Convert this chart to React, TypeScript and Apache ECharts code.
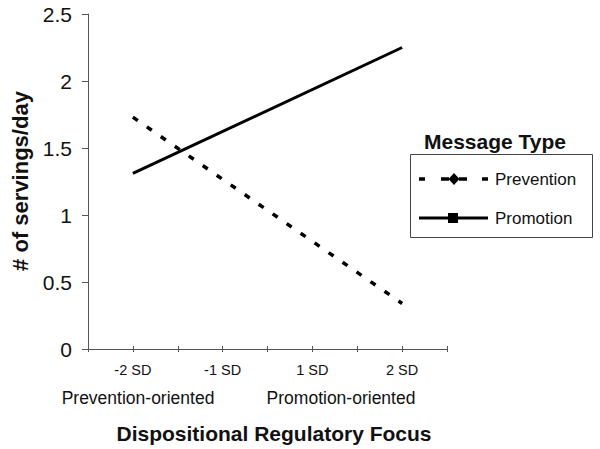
import React, { useEffect, useRef } from "react";
import * as echarts from "echarts";

const categories = ["-2 SD", "-1 SD", "1 SD", "2 SD"];
const prevention: (number | null)[] = [1.73, null, null, 0.34];
const promotion: (number | null)[] = [1.31, null, null, 2.25];
const yTicks = { min: 0, max: 2.5, interval: 0.5 };
const groupLabels = ["Prevention-oriented", "Promotion-oriented"];
const seriesNames = ["Prevention", "Promotion"];

const FONT = "'Liberation Sans', Arial, sans-serif";
const INK = "#111";

function toPoints(vals: (number | null)[]) {
  const pts: [number, number][] = [];
  vals.forEach((v, i) => {
    if (v !== null) pts.push([2 * i + 1, v]);
  });
  return pts;
}

export default function App() {
  const ref = useRef<HTMLDivElement>(null);
  useEffect(() => {
    if (!ref.current) return;
    const chart = echarts.init(ref.current, null, { renderer: "svg" });
    const legendY1 = 179;
    const legendY2 = 218;
    const option: any = {
      animation: false,
      backgroundColor: "#fff",
      grid: { left: 88, right: 153, top: 14, bottom: 100 },
      xAxis: [
        {
          type: "value",
          min: 0,
          max: categories.length * 2,
          interval: 1,
          splitLine: { show: false },
          axisLine: { show: true, lineStyle: { color: "#555", width: 1 } },
          axisTick: { show: true, length: 3, lineStyle: { color: "#555" } },
          axisLabel: {
            margin: 13,
            fontSize: 14.5,
            fontFamily: FONT,
            color: INK,
            formatter: (v: number) => {
              if (v % 2 === 1) return categories[(v - 1) / 2] ?? "";
              return "";
            },
          },
        },
        {
          type: "value",
          min: 0,
          max: categories.length * 2,
          interval: 1,
          position: "bottom",
          splitLine: { show: false },
          axisLine: { show: false },
          axisTick: { show: true, inside: true, length: 3, lineStyle: { color: "#555" } },
          axisLabel: { show: false },
        },
      ],
      yAxis: {
        type: "value",
        min: yTicks.min,
        max: yTicks.max,
        interval: yTicks.interval,
        splitLine: { show: false },
        axisLine: { show: true, lineStyle: { color: "#555", width: 1 } },
        axisTick: { show: true, length: 6, lineStyle: { color: "#555" } },
        axisLabel: {
          margin: 16,
          fontSize: 21,
          fontFamily: FONT,
          color: INK,
        },
      },
      series: [
        {
          name: seriesNames[0],
          type: "line",
          data: toPoints(prevention),
          connectNulls: true,
          showSymbol: false,
          symbol: "diamond",
          lineStyle: { color: "#000", width: 3.5, type: [6, 11] },
          itemStyle: { color: "#000" },
        },
        {
          name: seriesNames[1],
          type: "line",
          data: toPoints(promotion),
          connectNulls: true,
          showSymbol: false,
          symbol: "rect",
          lineStyle: { color: "#000", width: 3 },
          itemStyle: { color: "#000" },
        },
      ],
      graphic: [
        {
          type: "text",
          x: 20,
          y: 181,
          rotation: Math.PI / 2,
          style: {
            text: "# of servings/day",
            font: `bold 22px ${FONT}`,
            fill: INK,
            align: "center",
            verticalAlign: "middle",
          },
        },
        {
          type: "text",
          x: 138,
          y: 398,
          style: {
            text: groupLabels[0],
            font: `17.5px ${FONT}`,
            fill: INK,
            align: "center",
            verticalAlign: "middle",
          },
        },
        {
          type: "text",
          x: 341,
          y: 398,
          style: {
            text: groupLabels[1],
            font: `17.5px ${FONT}`,
            fill: INK,
            align: "center",
            verticalAlign: "middle",
          },
        },
        {
          type: "text",
          x: 274,
          y: 433,
          style: {
            text: "Dispositional Regulatory Focus",
            font: `bold 21px ${FONT}`,
            fill: INK,
            align: "center",
            verticalAlign: "middle",
          },
        },
        {
          type: "text",
          x: 495,
          y: 141,
          style: {
            text: "Message Type",
            font: `bold 21px ${FONT}`,
            fill: INK,
            align: "center",
            verticalAlign: "middle",
          },
        },
        {
          type: "rect",
          shape: { x: 410.5, y: 154.5, width: 182, height: 83 },
          style: { fill: "none", stroke: "#444", lineWidth: 1 },
        },
        // Prevention legend sample
        { type: "line", shape: { x1: 419, y1: legendY1, x2: 425, y2: legendY1 }, style: { stroke: "#000", lineWidth: 3.5 } },
        { type: "line", shape: { x1: 441, y1: legendY1, x2: 449, y2: legendY1 }, style: { stroke: "#000", lineWidth: 3.5 } },
        { type: "line", shape: { x1: 459, y1: legendY1, x2: 467, y2: legendY1 }, style: { stroke: "#000", lineWidth: 3.5 } },
        { type: "line", shape: { x1: 482, y1: legendY1, x2: 488, y2: legendY1 }, style: { stroke: "#000", lineWidth: 3.5 } },
        {
          type: "polygon",
          shape: { points: [[454, legendY1 - 6], [459.5, legendY1], [454, legendY1 + 6], [448.5, legendY1]] },
          style: { fill: "#000" },
        },
        {
          type: "text",
          x: 495,
          y: legendY1,
          style: { text: seriesNames[0], font: `17px ${FONT}`, fill: INK, align: "left", verticalAlign: "middle" },
        },
        // Promotion legend sample
        { type: "line", shape: { x1: 419, y1: legendY2, x2: 488, y2: legendY2 }, style: { stroke: "#000", lineWidth: 3 } },
        {
          type: "rect",
          shape: { x: 448, y: legendY2 - 5, width: 10, height: 10 },
          style: { fill: "#000" },
        },
        {
          type: "text",
          x: 495,
          y: legendY2,
          style: { text: seriesNames[1], font: `17px ${FONT}`, fill: INK, align: "left", verticalAlign: "middle" },
        },
      ],
    };
    chart.setOption(option);
    return () => chart.dispose();
  }, []);
  return <div ref={ref} style={{ width: 600, height: 449, position: "absolute", left: 0, top: 0 }} />;
}
